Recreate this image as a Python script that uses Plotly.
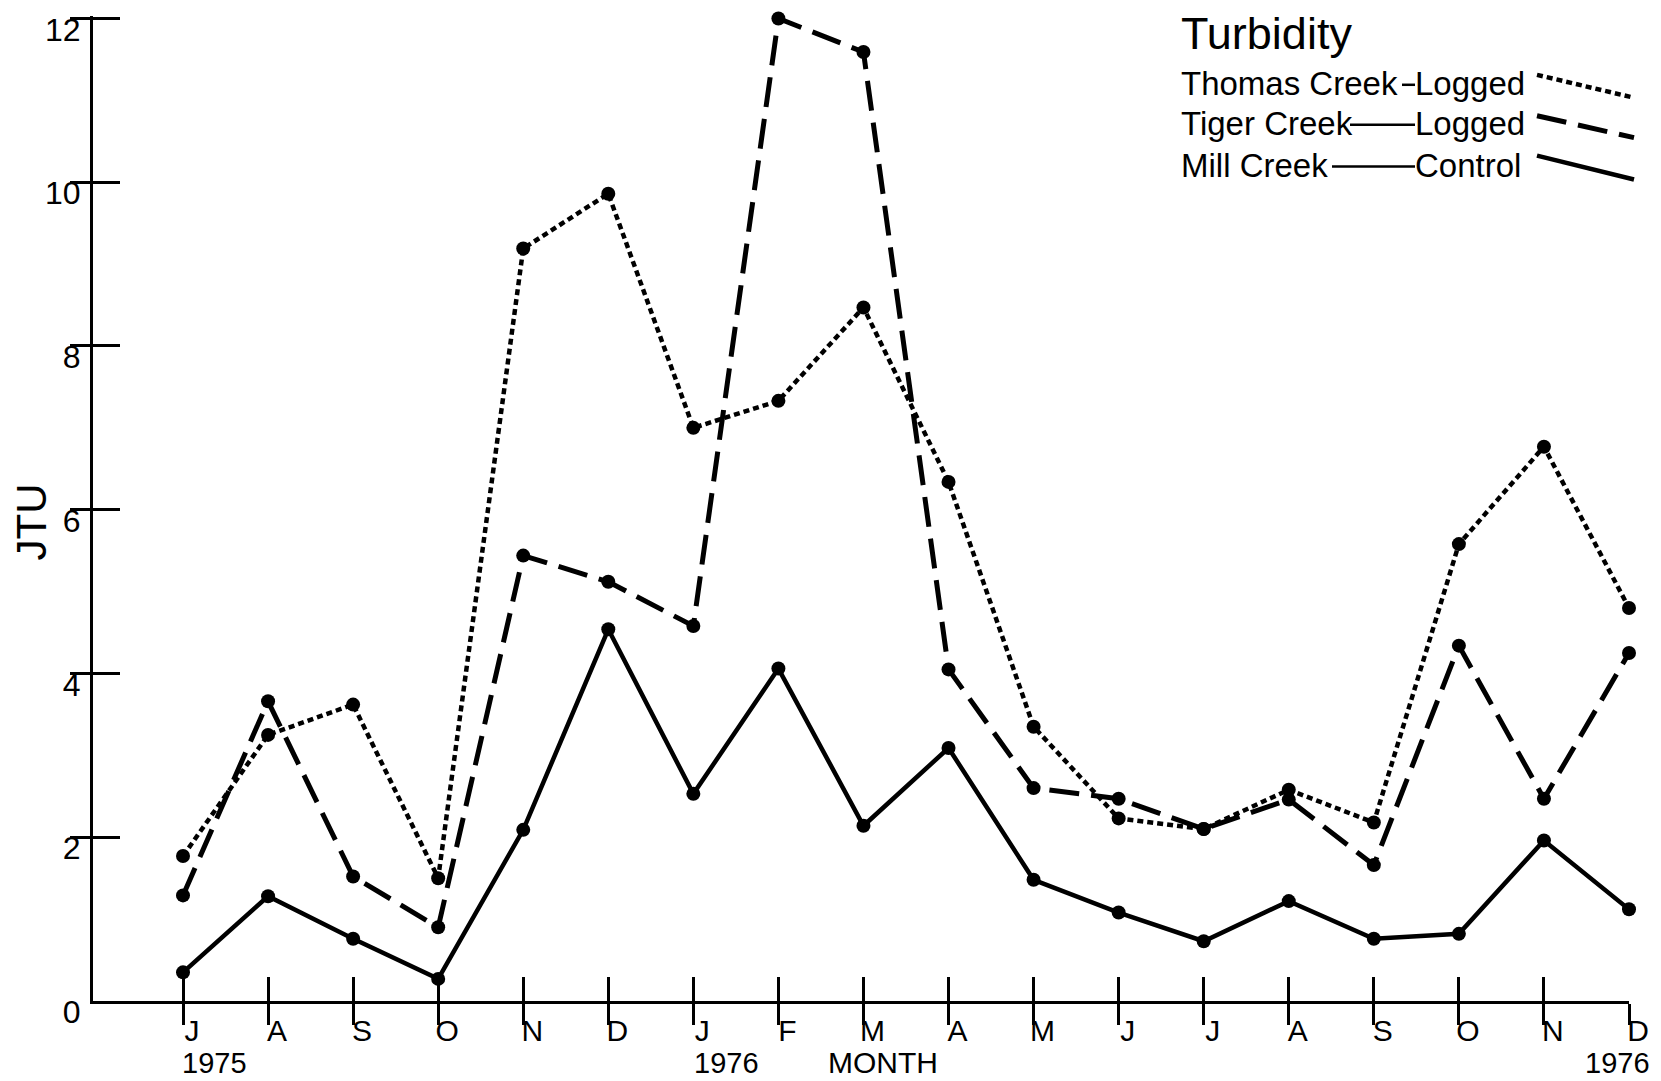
import plotly.graph_objects as go

# Monthly sampling, July 1975 - December 1976
months = ["J", "A", "S", "O", "N", "D", "J", "F", "M",
          "A", "M", "J", "J", "A", "S", "O", "N", "D"]

# Turbidity (JTU)
thomas_logged = [1.77, 3.25, 3.62, 1.50, 9.19, 9.86, 7.00, 7.33, 8.47,
                 6.34, 3.35, 2.23, 2.10, 2.58, 2.18, 5.58, 6.77, 4.80]
tiger_logged = [1.29, 3.66, 1.52, 0.90, 5.44, 5.12, 4.58, 12.00, 11.59,
                4.05, 2.60, 2.47, 2.10, 2.46, 1.66, 4.34, 2.47, 4.25]
mill_control = [0.35, 1.28, 0.76, 0.27, 2.09, 4.54, 2.53, 4.06, 2.14,
                3.09, 1.48, 1.08, 0.73, 1.22, 0.76, 0.82, 1.96, 1.12]

jtu_ticks = [0, 2, 4, 6, 8, 10, 12]

W, H = 1661, 1081
YTOP = 12.03  # a hair above 12 so the top tick is kept
ML, MR, MB = 93, 32, 80
MT = 15 - round((YTOP - 12) * (H - MB - 15) / 12)
PW, PH = W - ML - MR, H - MT - MB
FONT = "Liberation Sans, Arial, Helvetica, sans-serif"
INK = "black"


def px(xp):
    return (xp - ML) / PW


def py(yp):
    return (H - MB - yp) / PH


x = list(range(len(months)))

fig = go.Figure()

series = [
    (thomas_logged, "6px,4px", 4.5),
    (tiger_logged, "30px,12px", 5),
    (mill_control, "solid", 4.5),
]
for vals, dash, width in series:
    fig.add_trace(go.Scatter(
        x=x, y=vals, mode="lines+markers",
        line=dict(color=INK, width=width, dash=dash),
        marker=dict(size=14, color=INK),
        cliponaxis=False, showlegend=False, hoverinfo="skip",
    ))

# empty traces so the extra tick axes are drawn
for xa, ya in [("x2", "y"), ("x", "y2"), ("x", "y3")]:
    fig.add_trace(go.Scatter(x=[None], y=[None], xaxis=xa, yaxis=ya,
                             showlegend=False, hoverinfo="skip"))

step = (1629 - 183) / 17
xrange = [-(183 - ML) / step, len(months) - 1]

common_x = dict(range=xrange, showgrid=False, zeroline=False, fixedrange=True)
common_y = dict(range=[0, YTOP], showgrid=False, zeroline=False, fixedrange=True)

fig.update_layout(
    width=W, height=H,
    margin=dict(l=ML, r=MR, t=MT, b=MB, pad=0),
    paper_bgcolor="white", plot_bgcolor="white",
    font=dict(family=FONT, color=INK),
    xaxis=dict(**common_x, tickmode="array", tickvals=x, ticktext=months,
               ticks="outside", ticklen=21, tickwidth=3, tickcolor=INK,
               showline=True, linewidth=3, linecolor=INK,
               tickfont=dict(size=30, family=FONT, color=INK),
               ticklabelshift=9, ticklabelstandoff=-20),
    xaxis2=dict(**common_x, overlaying="x", anchor="y", side="bottom",
                tickmode="array", tickvals=x, ticks="inside", ticklen=24,
                tickwidth=3, tickcolor=INK, showticklabels=False, showline=False),
    yaxis=dict(**common_y, tickmode="array", tickvals=jtu_ticks,
               ticktext=[str(v) for v in jtu_ticks], ticks="",
               showline=True, linewidth=3, linecolor=INK,
               tickfont=dict(size=32, family=FONT, color=INK),
               ticklabelshift=11, ticklabelstandoff=3),
    yaxis2=dict(**common_y, overlaying="y", anchor="x", side="left",
                tickmode="array", tickvals=jtu_ticks[1:], ticks="outside",
                ticklen=22, tickwidth=3, tickcolor=INK,
                showticklabels=False, showline=False),
    yaxis3=dict(**common_y, overlaying="y", anchor="x", side="left",
                tickmode="array", tickvals=jtu_ticks[1:], ticks="inside",
                ticklen=27, tickwidth=3, tickcolor=INK,
                showticklabels=False, showline=False),
)

annotations = [
    dict(text="JTU", x=px(31), y=py(521), xref="paper", yref="paper",
         textangle=-90, font=dict(size=42), showarrow=False,
         xanchor="center", yanchor="middle"),
    dict(text="1975", x=0, xref="x", xshift=-3, y=py(1063), yref="paper",
         font=dict(size=29), showarrow=False, xanchor="left", yanchor="middle"),
    dict(text="1976", x=6, xref="x", xshift=-1, y=py(1063), yref="paper",
         font=dict(size=29), showarrow=False, xanchor="left", yanchor="middle"),
    dict(text="MONTH", x=8, xref="x", xshift=20, y=py(1063), yref="paper",
         font=dict(size=30), showarrow=False, xanchor="center", yanchor="middle"),
    dict(text="1976", x=17, xref="x", xshift=23, y=py(1063), yref="paper",
         font=dict(size=29), showarrow=False, xanchor="right", yanchor="middle"),
    # legend block
    dict(text="Turbidity", x=px(1179), y=py(31), xref="paper", yref="paper",
         font=dict(size=45), showarrow=False, xanchor="left", yanchor="middle"),
    dict(text="Thomas Creek", x=px(1179), y=py(81), xref="paper", yref="paper",
         font=dict(size=33), showarrow=False, xanchor="left", yanchor="middle"),
    dict(text="Tiger Creek", x=px(1179), y=py(121), xref="paper", yref="paper",
         font=dict(size=33), showarrow=False, xanchor="left", yanchor="middle"),
    dict(text="Mill Creek", x=px(1179), y=py(163), xref="paper", yref="paper",
         font=dict(size=33), showarrow=False, xanchor="left", yanchor="middle"),
    dict(text="Logged", x=px(1413), y=py(81), xref="paper", yref="paper",
         font=dict(size=33), showarrow=False, xanchor="left", yanchor="middle"),
    dict(text="Logged", x=px(1413), y=py(121), xref="paper", yref="paper",
         font=dict(size=33), showarrow=False, xanchor="left", yanchor="middle"),
    dict(text="Control", x=px(1413), y=py(163), xref="paper", yref="paper",
         font=dict(size=33), showarrow=False, xanchor="left", yanchor="middle"),
]
fig.update_layout(annotations=annotations)

shapes = []
# connectors between creek names and treatment
for x0, x1, yy in [(1402, 1415, 82), (1350, 1415, 122), (1332, 1415, 164)]:
    shapes.append(dict(type="line", xref="paper", yref="paper",
                       x0=px(x0), x1=px(x1), y0=py(yy), y1=py(yy),
                       line=dict(color=INK, width=2.5)))
# line-style samples
for (y0, y1), dash, width in [((72, 95), "6px,4px", 4.5),
                              ((113, 135), "30px,12px", 5),
                              ((153, 177), "solid", 4.5)]:
    shapes.append(dict(type="line", xref="paper", yref="paper",
                       x0=px(1537), x1=px(1634), y0=py(y0), y1=py(y1),
                       line=dict(color=INK, width=width, dash=dash)))
fig.update_layout(shapes=shapes)

fig.write_html("out.html")
